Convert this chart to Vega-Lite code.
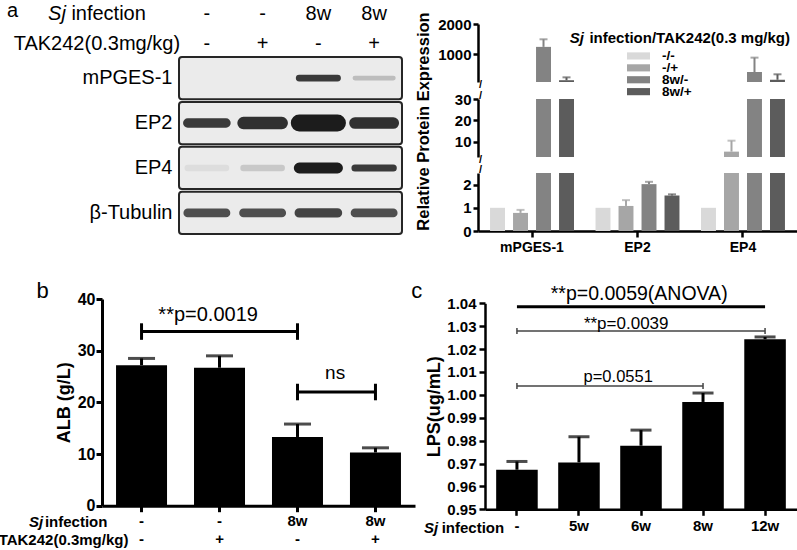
{
"$schema": "https://vega.github.io/schema/vega-lite/v6.json",
"width": 797,
"height": 550,
"autosize": {"type": "none"},
"padding": 0,
"background": "#ffffff",
"config": {
  "view": {"stroke": null},
  "font": "Liberation Sans",
  "axis": {"labelFont": "Liberation Sans", "titleFont": "Liberation Sans", "labelColor": "#000000", "titleColor": "#000000", "domainColor": "#000000", "tickColor": "#000000", "grid": false, "labelFlush": false, "labelOverlap": false, "labelBound": false, "labelAngle": 0},
  "text": {"font": "Liberation Sans", "color": "#000000"}
},
"datasets": {
  "proteins": [{"protein": "mPGES-1"}, {"protein": "EP2"}, {"protein": "EP4"}, {"protein": "β-Tubulin"}],
  "blot": [
    {"protein": "mPGES-1", "lane": "-/-", "signal": 0, "thick": 0.2},
    {"protein": "mPGES-1", "lane": "-/+", "signal": 0, "thick": 0.2},
    {"protein": "mPGES-1", "lane": "8w/-", "signal": 0.85, "thick": 0.33},
    {"protein": "mPGES-1", "lane": "8w/+", "signal": 0.22, "thick": 0.2},
    {"protein": "EP2", "lane": "-/-", "signal": 0.85, "thick": 0.5},
    {"protein": "EP2", "lane": "-/+", "signal": 0.9, "thick": 0.7},
    {"protein": "EP2", "lane": "8w/-", "signal": 1.0, "thick": 1.0},
    {"protein": "EP2", "lane": "8w/+", "signal": 0.9, "thick": 0.65},
    {"protein": "EP4", "lane": "-/-", "signal": 0.06, "thick": 0.3},
    {"protein": "EP4", "lane": "-/+", "signal": 0.16, "thick": 0.3},
    {"protein": "EP4", "lane": "8w/-", "signal": 1.0, "thick": 0.6},
    {"protein": "EP4", "lane": "8w/+", "signal": 0.85, "thick": 0.35},
    {"protein": "β-Tubulin", "lane": "-/-", "signal": 0.75, "thick": 0.45},
    {"protein": "β-Tubulin", "lane": "-/+", "signal": 0.75, "thick": 0.45},
    {"protein": "β-Tubulin", "lane": "8w/-", "signal": 0.8, "thick": 0.5},
    {"protein": "β-Tubulin", "lane": "8w/+", "signal": 0.75, "thick": 0.45}
  ],
  "expr": [
    {"protein": "mPGES-1", "group": "-/-", "mean": 1, "err": null},
    {"protein": "mPGES-1", "group": "-/+", "mean": 0.78, "err": 0.91},
    {"protein": "mPGES-1", "group": "8w/-", "mean": 1245, "err": 1495},
    {"protein": "mPGES-1", "group": "8w/+", "mean": 145, "err": 240},
    {"protein": "EP2", "group": "-/-", "mean": 1, "err": null},
    {"protein": "EP2", "group": "-/+", "mean": 1.08, "err": 1.33},
    {"protein": "EP2", "group": "8w/-", "mean": 2.02, "err": 2.12},
    {"protein": "EP2", "group": "8w/+", "mean": 1.53, "err": 1.58},
    {"protein": "EP4", "group": "-/-", "mean": 1, "err": null},
    {"protein": "EP4", "group": "-/+", "mean": 5.5, "err": 10.6},
    {"protein": "EP4", "group": "8w/-", "mean": 416, "err": 890},
    {"protein": "EP4", "group": "8w/+", "mean": 160, "err": 340}
  ],
  "groups": [{"group": "-/-"}, {"group": "-/+"}, {"group": "8w/-"}, {"group": "8w/+"}],
  "alb": [
    {"g": "-/-", "mean": 27.2, "err": 28.5},
    {"g": "-/+", "mean": 26.7, "err": 29.0},
    {"g": "8w/-", "mean": 13.3, "err": 15.8},
    {"g": "8w/+", "mean": 10.3, "err": 11.2}
  ],
  "bBrackets": [
    {"from": "-/-", "to": "8w/-", "y": 33.7, "lo": 32.1, "hi": 35.3, "label": "**p=0.0019", "ly": 37},
    {"from": "8w/-", "to": "8w/+", "y": 22, "lo": 20.4, "hi": 23.6, "label": "ns", "ly": 25.7}
  ],
  "lps": [
    {"g": "-", "mean": 0.9673, "err": 0.9709},
    {"g": "5w", "mean": 0.9705, "err": 0.9817},
    {"g": "6w", "mean": 0.9778, "err": 0.9846},
    {"g": "8w", "mean": 0.9969, "err": 1.0008},
    {"g": "12w", "mean": 1.0243, "err": 1.0253}
  ],
  "cBrackets": [
    {"from": "-", "to": "12w", "y": 1.0385, "lo": null, "hi": null, "label": "**p=0.0059(ANOVA)", "ly": 1.0441},
    {"from": "-", "to": "12w", "y": 1.0279, "lo": 1.0266, "hi": 1.0292, "label": "**p=0.0039", "ly": 1.0311},
    {"from": "-", "to": "8w", "y": 1.0039, "lo": 1.0026, "hi": 1.0052, "label": "p=0.0551", "ly": 1.0077}
  ]
},
"resolve": {
  "scale": {"x": "independent", "y": "independent", "xOffset": "independent", "color": "independent", "opacity": "independent", "strokeWidth": "independent"},
  "axis": {"x": "independent", "y": "independent"}
},
"layer": [
  {
    "data": {"name": "proteins"},
    "mark": {"type": "rect", "fill": "#ebebeb", "stroke": "#262626", "strokeWidth": 2, "cornerRadius": 3},
    "encoding": {
      "x": {"datum": 0.5, "type": "quantitative", "scale": {"domain": [0.5, 4.5], "range": [179, 402], "nice": false, "zero": false}, "axis": null},
      "x2": {"datum": 4.5},
      "y": {"field": "protein", "type": "nominal", "sort": null, "scale": {"domain": ["mPGES-1", "EP2", "EP4", "β-Tubulin"], "range": [57, 234], "paddingInner": 0.06, "paddingOuter": 0}, "axis": {"orient": "left", "offset": -179, "title": null, "domain": false, "ticks": false, "labelFontSize": 20, "labelFontWeight": "normal", "labelPadding": 7}}
    }
  },
  {
    "data": {"name": "blot"},
    "mark": {"type": "rect", "width": {"band": 0.78}, "height": {"band": 0.02}, "cornerRadius": 3, "fill": "#111111", "stroke": "#111111", "strokeJoin": "round"},
    "encoding": {
      "x": {"field": "lane", "type": "nominal", "sort": null, "scale": {"domain": ["-/-", "-/+", "8w/-", "8w/+"], "range": [179, 402], "paddingInner": 0.1, "paddingOuter": 0.05}, "axis": {"orient": "top", "offset": -57, "title": null, "domain": false, "ticks": false, "labelFontSize": 20, "labelFontWeight": "normal", "labelPadding": 34, "labelLineHeight": 30, "labelAngle": 0, "labelExpr": "split(datum.value, '/')"}},
      "y": {"field": "protein", "type": "nominal", "sort": null, "scale": {"domain": ["mPGES-1", "EP2", "EP4", "β-Tubulin"], "range": [57, 234], "paddingInner": 0.06, "paddingOuter": 0}, "axis": null},
      "opacity": {"field": "signal", "type": "quantitative", "scale": {"domain": [0, 1], "range": [0, 0.95]}, "legend": null},
      "strokeWidth": {"field": "thick", "type": "quantitative", "scale": {"domain": [0, 1], "range": [1, 16]}, "legend": null}
    }
  },
  {
    "data": {"values": [{"t": "Sj"}]},
    "mark": {"type": "text", "align": "left", "fontSize": 20, "fontStyle": "italic", "dx": -158.8, "dy": -65},
    "encoding": {
      "x": {"datum": "-/-", "type": "nominal", "scale": {"domain": ["-/-", "-/+", "8w/-", "8w/+"], "range": [179, 402], "paddingInner": 0.1, "paddingOuter": 0.05}, "axis": null},
      "y": {"datum": "mPGES-1", "type": "nominal", "scale": {"domain": ["mPGES-1", "EP2", "EP4", "β-Tubulin"], "range": [57, 234], "paddingInner": 0.06, "paddingOuter": 0}, "axis": null},
      "text": {"field": "t"}
    }
  },
  {
    "data": {"values": [{"t": "infection"}]},
    "mark": {"type": "text", "align": "left", "fontSize": 20, "dx": -135.5, "dy": -65},
    "encoding": {
      "x": {"datum": "-/-", "type": "nominal", "scale": {"domain": ["-/-", "-/+", "8w/-", "8w/+"], "range": [179, 402], "paddingInner": 0.1, "paddingOuter": 0.05}, "axis": null},
      "y": {"datum": "mPGES-1", "type": "nominal", "scale": {"domain": ["mPGES-1", "EP2", "EP4", "β-Tubulin"], "range": [57, 234], "paddingInner": 0.06, "paddingOuter": 0}, "axis": null},
      "text": {"field": "t"}
    }
  },
  {
    "data": {"values": [{"t": "TAK242(0.3mg/kg)"}]},
    "mark": {"type": "text", "align": "center", "fontSize": 20, "dx": -110, "dy": -35},
    "encoding": {
      "x": {"datum": "-/-", "type": "nominal", "scale": {"domain": ["-/-", "-/+", "8w/-", "8w/+"], "range": [179, 402], "paddingInner": 0.1, "paddingOuter": 0.05}, "axis": null},
      "y": {"datum": "mPGES-1", "type": "nominal", "scale": {"domain": ["mPGES-1", "EP2", "EP4", "β-Tubulin"], "range": [57, 234], "paddingInner": 0.06, "paddingOuter": 0}, "axis": null},
      "text": {"field": "t"}
    }
  },
  {
    "data": {"values": [{"t": "a"}]},
    "mark": {"type": "text", "align": "left", "baseline": "top", "fontSize": 20, "dx": -200, "dy": -78},
    "encoding": {
      "x": {"datum": "-/-", "type": "nominal", "scale": {"domain": ["-/-", "-/+", "8w/-", "8w/+"], "range": [179, 402], "paddingInner": 0.1, "paddingOuter": 0.05}, "axis": null},
      "y": {"datum": "mPGES-1", "type": "nominal", "scale": {"domain": ["mPGES-1", "EP2", "EP4", "β-Tubulin"], "range": [57, 234], "paddingInner": 0.06, "paddingOuter": 0}, "axis": null},
      "text": {"field": "t"}
    }
  },

  {
    "data": {"name": "expr"},
    "mark": {"type": "bar"},
    "encoding": {
      "x": {"field": "protein", "type": "nominal", "sort": null, "scale": {"domain": ["mPGES-1", "EP2", "EP4"], "range": [478, 797], "paddingInner": 0.128, "paddingOuter": 0.076}, "axis": {"orient": "bottom", "offset": -319, "title": null, "labelAngle": 0, "labelFontSize": 14, "labelFontWeight": "bold", "tickSize": 6, "tickWidth": 2.5, "domainWidth": 2.5, "labelPadding": 3}},
      "xOffset": {"field": "group", "type": "nominal", "sort": null, "scale": {"domain": ["-/-", "-/+", "8w/-", "8w/+"], "paddingInner": 0.35, "paddingOuter": 0.175}},
      "color": {"field": "group", "type": "nominal", "scale": {"domain": ["-/-", "-/+", "8w/-", "8w/+"], "range": ["#d9d9d9", "#a6a6a6", "#838383", "#5c5c5c"]}, "legend": null},
      "y": {"field": "mean", "type": "quantitative", "scale": {"domain": [0, 2.5], "range": [231, 173], "clamp": true, "nice": false, "zero": false}, "axis": {"orient": "left", "offset": -478, "values": [0, 1, 2], "format": "d", "title": null, "labelFontSize": 15, "labelFontWeight": "bold", "tickSize": 5, "tickWidth": 2.5, "domainWidth": 2.5, "labelPadding": 2}},
      "y2": {"datum": 0}
    }
  },
  {
    "data": {"name": "expr"},
    "transform": [{"filter": "isValid(datum.err)"}],
    "mark": {"type": "rule", "strokeWidth": 2},
    "encoding": {
      "x": {"field": "protein", "type": "nominal", "sort": null, "scale": {"domain": ["mPGES-1", "EP2", "EP4"], "range": [478, 797], "paddingInner": 0.128, "paddingOuter": 0.076}, "axis": null},
      "xOffset": {"field": "group", "type": "nominal", "sort": null, "scale": {"domain": ["-/-", "-/+", "8w/-", "8w/+"], "paddingInner": 0.35, "paddingOuter": 0.175}},
      "color": {"field": "group", "type": "nominal", "scale": {"domain": ["-/-", "-/+", "8w/-", "8w/+"], "range": ["#d9d9d9", "#a6a6a6", "#838383", "#5c5c5c"]}, "legend": null},
      "y": {"field": "mean", "type": "quantitative", "scale": {"domain": [0, 2.5], "range": [231, 173], "clamp": true, "nice": false, "zero": false}, "axis": null},
      "y2": {"field": "err"}
    }
  },
  {
    "data": {"name": "expr"},
    "transform": [{"filter": "isValid(datum.err) && datum.err <= 2.5"}],
    "mark": {"type": "tick", "size": 8, "thickness": 2},
    "encoding": {
      "x": {"field": "protein", "type": "nominal", "sort": null, "scale": {"domain": ["mPGES-1", "EP2", "EP4"], "range": [478, 797], "paddingInner": 0.128, "paddingOuter": 0.076}, "axis": null},
      "xOffset": {"field": "group", "type": "nominal", "sort": null, "scale": {"domain": ["-/-", "-/+", "8w/-", "8w/+"], "paddingInner": 0.35, "paddingOuter": 0.175}},
      "color": {"field": "group", "type": "nominal", "scale": {"domain": ["-/-", "-/+", "8w/-", "8w/+"], "range": ["#d9d9d9", "#a6a6a6", "#838383", "#5c5c5c"]}, "legend": null},
      "y": {"field": "err", "type": "quantitative", "scale": {"domain": [0, 2.5], "range": [231, 173], "clamp": true, "nice": false, "zero": false}, "axis": null}
    }
  },
  {
    "data": {"name": "expr"},
    "mark": {"type": "bar"},
    "encoding": {
      "x": {"field": "protein", "type": "nominal", "sort": null, "scale": {"domain": ["mPGES-1", "EP2", "EP4"], "range": [478, 797], "paddingInner": 0.128, "paddingOuter": 0.076}, "axis": null},
      "xOffset": {"field": "group", "type": "nominal", "sort": null, "scale": {"domain": ["-/-", "-/+", "8w/-", "8w/+"], "paddingInner": 0.35, "paddingOuter": 0.175}},
      "color": {"field": "group", "type": "nominal", "scale": {"domain": ["-/-", "-/+", "8w/-", "8w/+"], "range": ["#d9d9d9", "#a6a6a6", "#838383", "#5c5c5c"]}, "legend": null},
      "y": {"field": "mean", "type": "quantitative", "scale": {"domain": [3, 30], "range": [157, 99], "clamp": true, "nice": false, "zero": false}, "axis": {"orient": "left", "offset": -478, "values": [10, 20, 30], "format": "d", "title": "Relative Protein Expression", "titleFontSize": 16.5, "titleFontWeight": "bold", "titleX": -55, "titleY": 121, "titleBaseline": "middle", "titleAlign": "center", "labelFontSize": 15, "labelFontWeight": "bold", "tickSize": 5, "tickWidth": 2.5, "domainWidth": 2.5, "labelPadding": 2}},
      "y2": {"datum": 0}
    }
  },
  {
    "data": {"name": "expr"},
    "transform": [{"filter": "isValid(datum.err)"}],
    "mark": {"type": "rule", "strokeWidth": 2},
    "encoding": {
      "x": {"field": "protein", "type": "nominal", "sort": null, "scale": {"domain": ["mPGES-1", "EP2", "EP4"], "range": [478, 797], "paddingInner": 0.128, "paddingOuter": 0.076}, "axis": null},
      "xOffset": {"field": "group", "type": "nominal", "sort": null, "scale": {"domain": ["-/-", "-/+", "8w/-", "8w/+"], "paddingInner": 0.35, "paddingOuter": 0.175}},
      "color": {"field": "group", "type": "nominal", "scale": {"domain": ["-/-", "-/+", "8w/-", "8w/+"], "range": ["#d9d9d9", "#a6a6a6", "#838383", "#5c5c5c"]}, "legend": null},
      "y": {"field": "mean", "type": "quantitative", "scale": {"domain": [3, 30], "range": [157, 99], "clamp": true, "nice": false, "zero": false}, "axis": null},
      "y2": {"field": "err"}
    }
  },
  {
    "data": {"name": "expr"},
    "transform": [{"filter": "isValid(datum.err) && datum.err > 3 && datum.err <= 30"}],
    "mark": {"type": "tick", "size": 8, "thickness": 2},
    "encoding": {
      "x": {"field": "protein", "type": "nominal", "sort": null, "scale": {"domain": ["mPGES-1", "EP2", "EP4"], "range": [478, 797], "paddingInner": 0.128, "paddingOuter": 0.076}, "axis": null},
      "xOffset": {"field": "group", "type": "nominal", "sort": null, "scale": {"domain": ["-/-", "-/+", "8w/-", "8w/+"], "paddingInner": 0.35, "paddingOuter": 0.175}},
      "color": {"field": "group", "type": "nominal", "scale": {"domain": ["-/-", "-/+", "8w/-", "8w/+"], "range": ["#d9d9d9", "#a6a6a6", "#838383", "#5c5c5c"]}, "legend": null},
      "y": {"field": "err", "type": "quantitative", "scale": {"domain": [3, 30], "range": [157, 99], "clamp": true, "nice": false, "zero": false}, "axis": null}
    }
  },
  {
    "data": {"name": "expr"},
    "mark": {"type": "bar"},
    "encoding": {
      "x": {"field": "protein", "type": "nominal", "sort": null, "scale": {"domain": ["mPGES-1", "EP2", "EP4"], "range": [478, 797], "paddingInner": 0.128, "paddingOuter": 0.076}, "axis": null},
      "xOffset": {"field": "group", "type": "nominal", "sort": null, "scale": {"domain": ["-/-", "-/+", "8w/-", "8w/+"], "paddingInner": 0.35, "paddingOuter": 0.175}},
      "color": {"field": "group", "type": "nominal", "scale": {"domain": ["-/-", "-/+", "8w/-", "8w/+"], "range": ["#d9d9d9", "#a6a6a6", "#838383", "#5c5c5c"]}, "legend": null},
      "y": {"field": "mean", "type": "quantitative", "scale": {"domain": [86, 2000], "range": [82, 24], "clamp": true, "nice": false, "zero": false}, "axis": {"orient": "left", "offset": -478, "values": [1000, 2000], "format": "d", "title": null, "labelFontSize": 15, "labelFontWeight": "bold", "tickSize": 5, "tickWidth": 2.5, "domainWidth": 2.5, "labelPadding": 2}},
      "y2": {"datum": 0}
    }
  },
  {
    "data": {"name": "expr"},
    "transform": [{"filter": "isValid(datum.err)"}],
    "mark": {"type": "rule", "strokeWidth": 2},
    "encoding": {
      "x": {"field": "protein", "type": "nominal", "sort": null, "scale": {"domain": ["mPGES-1", "EP2", "EP4"], "range": [478, 797], "paddingInner": 0.128, "paddingOuter": 0.076}, "axis": null},
      "xOffset": {"field": "group", "type": "nominal", "sort": null, "scale": {"domain": ["-/-", "-/+", "8w/-", "8w/+"], "paddingInner": 0.35, "paddingOuter": 0.175}},
      "color": {"field": "group", "type": "nominal", "scale": {"domain": ["-/-", "-/+", "8w/-", "8w/+"], "range": ["#d9d9d9", "#a6a6a6", "#838383", "#5c5c5c"]}, "legend": null},
      "y": {"field": "mean", "type": "quantitative", "scale": {"domain": [86, 2000], "range": [82, 24], "clamp": true, "nice": false, "zero": false}, "axis": null},
      "y2": {"field": "err"}
    }
  },
  {
    "data": {"name": "expr"},
    "transform": [{"filter": "isValid(datum.err) && datum.err > 86"}],
    "mark": {"type": "tick", "size": 8, "thickness": 2},
    "encoding": {
      "x": {"field": "protein", "type": "nominal", "sort": null, "scale": {"domain": ["mPGES-1", "EP2", "EP4"], "range": [478, 797], "paddingInner": 0.128, "paddingOuter": 0.076}, "axis": null},
      "xOffset": {"field": "group", "type": "nominal", "sort": null, "scale": {"domain": ["-/-", "-/+", "8w/-", "8w/+"], "paddingInner": 0.35, "paddingOuter": 0.175}},
      "color": {"field": "group", "type": "nominal", "scale": {"domain": ["-/-", "-/+", "8w/-", "8w/+"], "range": ["#d9d9d9", "#a6a6a6", "#838383", "#5c5c5c"]}, "legend": null},
      "y": {"field": "err", "type": "quantitative", "scale": {"domain": [86, 2000], "range": [82, 24], "clamp": true, "nice": false, "zero": false}, "axis": null}
    }
  },
  {
    "data": {"values": [{"t": "/", "v": 86}]},
    "mark": {"type": "text", "fontSize": 11, "fontWeight": "bold", "dx": -50.6, "dy": 3},
    "encoding": {
      "x": {"datum": "mPGES-1", "type": "nominal", "scale": {"domain": ["mPGES-1", "EP2", "EP4"], "range": [478, 797], "paddingInner": 0.128, "paddingOuter": 0.076}, "axis": null},
      "y": {"field": "v", "type": "quantitative", "scale": {"domain": [86, 2000], "range": [82, 24], "clamp": true, "nice": false, "zero": false}, "axis": null},
      "text": {"field": "t"}
    }
  },
  {
    "data": {"values": [{"t": "/", "v": 30}]},
    "mark": {"type": "text", "fontSize": 11, "fontWeight": "bold", "dx": -50.6, "dy": -3},
    "encoding": {
      "x": {"datum": "mPGES-1", "type": "nominal", "scale": {"domain": ["mPGES-1", "EP2", "EP4"], "range": [478, 797], "paddingInner": 0.128, "paddingOuter": 0.076}, "axis": null},
      "y": {"field": "v", "type": "quantitative", "scale": {"domain": [3, 30], "range": [157, 99], "clamp": true, "nice": false, "zero": false}, "axis": null},
      "text": {"field": "t"}
    }
  },
  {
    "data": {"values": [{"t": "/", "v": 3}]},
    "mark": {"type": "text", "fontSize": 11, "fontWeight": "bold", "dx": -50.6, "dy": 3},
    "encoding": {
      "x": {"datum": "mPGES-1", "type": "nominal", "scale": {"domain": ["mPGES-1", "EP2", "EP4"], "range": [478, 797], "paddingInner": 0.128, "paddingOuter": 0.076}, "axis": null},
      "y": {"field": "v", "type": "quantitative", "scale": {"domain": [3, 30], "range": [157, 99], "clamp": true, "nice": false, "zero": false}, "axis": null},
      "text": {"field": "t"}
    }
  },
  {
    "data": {"values": [{"t": "/", "v": 2.5}]},
    "mark": {"type": "text", "fontSize": 11, "fontWeight": "bold", "dx": -50.6, "dy": -3},
    "encoding": {
      "x": {"datum": "mPGES-1", "type": "nominal", "scale": {"domain": ["mPGES-1", "EP2", "EP4"], "range": [478, 797], "paddingInner": 0.128, "paddingOuter": 0.076}, "axis": null},
      "y": {"field": "v", "type": "quantitative", "scale": {"domain": [0, 2.5], "range": [231, 173], "clamp": true, "nice": false, "zero": false}, "axis": null},
      "text": {"field": "t"}
    }
  },

  {
    "data": {"name": "groups"},
    "mark": {"type": "rect", "height": {"band": 0.6}},
    "encoding": {
      "x": {"datum": 0, "type": "quantitative", "scale": {"domain": [0, 1], "range": [627, 650], "nice": false, "zero": false}, "axis": null},
      "x2": {"datum": 1},
      "y": {"field": "group", "type": "nominal", "sort": null, "scale": {"domain": ["-/-", "-/+", "8w/-", "8w/+"], "range": [50, 97.6], "paddingInner": 0, "paddingOuter": 0}, "axis": null},
      "color": {"field": "group", "type": "nominal", "scale": {"domain": ["-/-", "-/+", "8w/-", "8w/+"], "range": ["#d9d9d9", "#a6a6a6", "#838383", "#5c5c5c"]}, "legend": null}
    }
  },
  {
    "data": {"name": "groups"},
    "mark": {"type": "text", "align": "left", "dx": 12, "fontSize": 13.5, "fontWeight": "bold"},
    "encoding": {
      "x": {"datum": 1, "type": "quantitative", "scale": {"domain": [0, 1], "range": [627, 650], "nice": false, "zero": false}, "axis": null},
      "y": {"field": "group", "type": "nominal", "sort": null, "scale": {"domain": ["-/-", "-/+", "8w/-", "8w/+"], "range": [50, 97.6], "paddingInner": 0, "paddingOuter": 0}, "axis": null},
      "text": {"field": "group"}
    }
  },
  {
    "data": {"values": [{"t": "Sj"}]},
    "mark": {"type": "text", "align": "right", "dx": -43, "dy": -18, "fontSize": 15, "fontWeight": "bold", "fontStyle": "italic"},
    "encoding": {
      "x": {"datum": 0, "type": "quantitative", "scale": {"domain": [0, 1], "range": [627, 650], "nice": false, "zero": false}, "axis": null},
      "y": {"datum": "-/-", "type": "nominal", "scale": {"domain": ["-/-", "-/+", "8w/-", "8w/+"], "range": [50, 97.6], "paddingInner": 0, "paddingOuter": 0}, "axis": null},
      "text": {"field": "t"}
    }
  },
  {
    "data": {"values": [{"t": "infection/TAK242(0.3 mg/kg)"}]},
    "mark": {"type": "text", "align": "right", "dx": 163, "dy": -18, "fontSize": 15, "fontWeight": "bold"},
    "encoding": {
      "x": {"datum": 0, "type": "quantitative", "scale": {"domain": [0, 1], "range": [627, 650], "nice": false, "zero": false}, "axis": null},
      "y": {"datum": "-/-", "type": "nominal", "scale": {"domain": ["-/-", "-/+", "8w/-", "8w/+"], "range": [50, 97.6], "paddingInner": 0, "paddingOuter": 0}, "axis": null},
      "text": {"field": "t"}
    }
  },

  {
    "data": {"name": "alb"},
    "mark": {"type": "bar", "color": "#000000"},
    "encoding": {
      "x": {"field": "g", "type": "nominal", "sort": null, "scale": {"domain": ["-/-", "-/+", "8w/-", "8w/+"], "range": [102, 415], "paddingInner": 0.346, "paddingOuter": 0.18}, "axis": {"orient": "bottom", "offset": -44.3, "title": null, "labelAngle": 0, "labelFontSize": 15, "labelFontWeight": "bold", "labelLineHeight": 18, "labelExpr": "split(datum.value, '/')", "tickSize": 6, "tickWidth": 3, "domainWidth": 3, "labelPadding": 2}},
      "y": {"field": "mean", "type": "quantitative", "scale": {"domain": [0, 40], "range": [505.7, 299], "nice": false, "zero": false}, "axis": {"orient": "left", "offset": -102, "values": [0, 10, 20, 30, 40], "title": "ALB (g/L)", "titleFontSize": 18, "titleFontWeight": "bold", "titlePadding": 4, "labelFontSize": 16, "labelFontWeight": "bold", "tickSize": 6, "tickWidth": 3, "domainWidth": 3, "labelPadding": 1}},
      "y2": {"datum": 0}
    }
  },
  {
    "data": {"name": "alb"},
    "mark": {"type": "rule", "color": "#000000", "strokeWidth": 3},
    "encoding": {
      "x": {"field": "g", "type": "nominal", "sort": null, "scale": {"domain": ["-/-", "-/+", "8w/-", "8w/+"], "range": [102, 415], "paddingInner": 0.346, "paddingOuter": 0.18}, "axis": null},
      "y": {"field": "mean", "type": "quantitative", "scale": {"domain": [0, 40], "range": [505.7, 299], "nice": false, "zero": false}, "axis": null},
      "y2": {"field": "err"}
    }
  },
  {
    "data": {"name": "alb"},
    "mark": {"type": "tick", "color": "#000000", "size": 27, "thickness": 3},
    "encoding": {
      "x": {"field": "g", "type": "nominal", "sort": null, "scale": {"domain": ["-/-", "-/+", "8w/-", "8w/+"], "range": [102, 415], "paddingInner": 0.346, "paddingOuter": 0.18}, "axis": null},
      "y": {"field": "err", "type": "quantitative", "scale": {"domain": [0, 40], "range": [505.7, 299], "nice": false, "zero": false}, "axis": null}
    }
  },
  {
    "data": {"name": "bBrackets"},
    "mark": {"type": "rule", "color": "#000000", "strokeWidth": 3},
    "encoding": {
      "x": {"field": "from", "type": "nominal", "scale": {"domain": ["-/-", "-/+", "8w/-", "8w/+"], "range": [102, 415], "paddingInner": 0.346, "paddingOuter": 0.18}, "axis": null},
      "x2": {"field": "to"},
      "y": {"field": "y", "type": "quantitative", "scale": {"domain": [0, 40], "range": [505.7, 299], "nice": false, "zero": false}, "axis": null}
    }
  },
  {
    "data": {"name": "bBrackets"},
    "transform": [{"fold": ["from", "to"], "as": ["end", "at"]}],
    "mark": {"type": "rule", "color": "#000000", "strokeWidth": 3},
    "encoding": {
      "x": {"field": "at", "type": "nominal", "scale": {"domain": ["-/-", "-/+", "8w/-", "8w/+"], "range": [102, 415], "paddingInner": 0.346, "paddingOuter": 0.18}, "axis": null},
      "y": {"field": "lo", "type": "quantitative", "scale": {"domain": [0, 40], "range": [505.7, 299], "nice": false, "zero": false}, "axis": null},
      "y2": {"field": "hi"}
    }
  },
  {
    "data": {"name": "bBrackets"},
    "transform": [{"filter": "datum.label == '**p=0.0019'"}],
    "mark": {"type": "text", "fontSize": 20, "dx": 67},
    "encoding": {
      "x": {"field": "from", "type": "nominal", "scale": {"domain": ["-/-", "-/+", "8w/-", "8w/+"], "range": [102, 415], "paddingInner": 0.346, "paddingOuter": 0.18}, "axis": null},
      "y": {"field": "ly", "type": "quantitative", "scale": {"domain": [0, 40], "range": [505.7, 299], "nice": false, "zero": false}, "axis": null},
      "text": {"field": "label"}
    }
  },
  {
    "data": {"name": "bBrackets"},
    "transform": [{"filter": "datum.label == 'ns'"}],
    "mark": {"type": "text", "fontSize": 19, "dx": 37.5},
    "encoding": {
      "x": {"field": "from", "type": "nominal", "scale": {"domain": ["-/-", "-/+", "8w/-", "8w/+"], "range": [102, 415], "paddingInner": 0.346, "paddingOuter": 0.18}, "axis": null},
      "y": {"field": "ly", "type": "quantitative", "scale": {"domain": [0, 40], "range": [505.7, 299], "nice": false, "zero": false}, "axis": null},
      "text": {"field": "label"}
    }
  },
  {
    "data": {"values": [{"t": "Sj"}]},
    "mark": {"type": "text", "align": "right", "fontSize": 15, "fontWeight": "bold", "fontStyle": "italic", "dx": -98, "dy": 16.5},
    "encoding": {
      "x": {"datum": "-/-", "type": "nominal", "scale": {"domain": ["-/-", "-/+", "8w/-", "8w/+"], "range": [102, 415], "paddingInner": 0.346, "paddingOuter": 0.18}, "axis": null},
      "y": {"datum": 0, "type": "quantitative", "scale": {"domain": [0, 40], "range": [505.7, 299], "nice": false, "zero": false}, "axis": null},
      "text": {"field": "t"}
    }
  },
  {
    "data": {"values": [{"t": "infection"}]},
    "mark": {"type": "text", "align": "right", "fontSize": 15, "fontWeight": "bold", "dx": -33.7, "dy": 16.5},
    "encoding": {
      "x": {"datum": "-/-", "type": "nominal", "scale": {"domain": ["-/-", "-/+", "8w/-", "8w/+"], "range": [102, 415], "paddingInner": 0.346, "paddingOuter": 0.18}, "axis": null},
      "y": {"datum": 0, "type": "quantitative", "scale": {"domain": [0, 40], "range": [505.7, 299], "nice": false, "zero": false}, "axis": null},
      "text": {"field": "t"}
    }
  },
  {
    "data": {"values": [{"t": "TAK242(0.3mg/kg)"}]},
    "mark": {"type": "text", "align": "right", "fontSize": 15, "fontWeight": "bold", "dx": -12.7, "dy": 34.5},
    "encoding": {
      "x": {"datum": "-/-", "type": "nominal", "scale": {"domain": ["-/-", "-/+", "8w/-", "8w/+"], "range": [102, 415], "paddingInner": 0.346, "paddingOuter": 0.18}, "axis": null},
      "y": {"datum": 0, "type": "quantitative", "scale": {"domain": [0, 40], "range": [505.7, 299], "nice": false, "zero": false}, "axis": null},
      "text": {"field": "t"}
    }
  },
  {
    "data": {"values": [{"t": "b"}]},
    "mark": {"type": "text", "align": "left", "baseline": "alphabetic", "fontSize": 22, "dx": -104.7, "dy": -1},
    "encoding": {
      "x": {"datum": "-/-", "type": "nominal", "scale": {"domain": ["-/-", "-/+", "8w/-", "8w/+"], "range": [102, 415], "paddingInner": 0.346, "paddingOuter": 0.18}, "axis": null},
      "y": {"datum": 40, "type": "quantitative", "scale": {"domain": [0, 40], "range": [505.7, 299], "nice": false, "zero": false}, "axis": null},
      "text": {"field": "t"}
    }
  },

  {
    "data": {"name": "lps"},
    "mark": {"type": "bar", "color": "#000000"},
    "encoding": {
      "x": {"field": "g", "type": "nominal", "sort": null, "scale": {"domain": ["-", "5w", "6w", "8w", "12w"], "range": [485, 797], "paddingInner": 0.33, "paddingOuter": 0.18}, "axis": {"orient": "bottom", "offset": -40.7, "title": null, "labelAngle": 0, "labelFontSize": 15, "labelFontWeight": "bold", "tickSize": 6, "tickWidth": 2.5, "domainWidth": 2.5, "labelPadding": 3}},
      "y": {"field": "mean", "type": "quantitative", "scale": {"domain": [0.95, 1.04], "range": [509.3, 303.3], "nice": false, "zero": false}, "axis": {"orient": "left", "offset": -485, "values": [0.95, 0.96, 0.97, 0.98, 0.99, 1.0, 1.01, 1.02, 1.03, 1.04], "format": ".2f", "title": "LPS(ug/mL)", "titleFontSize": 18, "titleFontWeight": "bold", "titlePadding": 3, "labelFontSize": 15, "labelFontWeight": "bold", "tickSize": 6, "tickWidth": 2.5, "domainWidth": 2.5, "labelPadding": 3}},
      "y2": {"datum": 0.95}
    }
  },
  {
    "data": {"name": "lps"},
    "mark": {"type": "rule", "color": "#000000", "strokeWidth": 3},
    "encoding": {
      "x": {"field": "g", "type": "nominal", "sort": null, "scale": {"domain": ["-", "5w", "6w", "8w", "12w"], "range": [485, 797], "paddingInner": 0.33, "paddingOuter": 0.18}, "axis": null},
      "y": {"field": "mean", "type": "quantitative", "scale": {"domain": [0.95, 1.04], "range": [509.3, 303.3], "nice": false, "zero": false}, "axis": null},
      "y2": {"field": "err"}
    }
  },
  {
    "data": {"name": "lps"},
    "mark": {"type": "tick", "color": "#000000", "size": 21, "thickness": 3},
    "encoding": {
      "x": {"field": "g", "type": "nominal", "sort": null, "scale": {"domain": ["-", "5w", "6w", "8w", "12w"], "range": [485, 797], "paddingInner": 0.33, "paddingOuter": 0.18}, "axis": null},
      "y": {"field": "err", "type": "quantitative", "scale": {"domain": [0.95, 1.04], "range": [509.3, 303.3], "nice": false, "zero": false}, "axis": null}
    }
  },
  {
    "data": {"name": "cBrackets"},
    "transform": [{"filter": "!isValid(datum.lo)"}],
    "mark": {"type": "rule", "color": "#000000", "strokeWidth": 3},
    "encoding": {
      "x": {"field": "from", "type": "nominal", "scale": {"domain": ["-", "5w", "6w", "8w", "12w"], "range": [485, 797], "paddingInner": 0.33, "paddingOuter": 0.18}, "axis": null},
      "x2": {"field": "to"},
      "y": {"field": "y", "type": "quantitative", "scale": {"domain": [0.95, 1.04], "range": [509.3, 303.3], "nice": false, "zero": false}, "axis": null}
    }
  },
  {
    "data": {"name": "cBrackets"},
    "transform": [{"filter": "isValid(datum.lo)"}],
    "mark": {"type": "rule", "color": "#444444", "strokeWidth": 1.5},
    "encoding": {
      "x": {"field": "from", "type": "nominal", "scale": {"domain": ["-", "5w", "6w", "8w", "12w"], "range": [485, 797], "paddingInner": 0.33, "paddingOuter": 0.18}, "axis": null},
      "x2": {"field": "to"},
      "y": {"field": "y", "type": "quantitative", "scale": {"domain": [0.95, 1.04], "range": [509.3, 303.3], "nice": false, "zero": false}, "axis": null}
    }
  },
  {
    "data": {"name": "cBrackets"},
    "transform": [{"filter": "isValid(datum.lo)"}, {"fold": ["from", "to"], "as": ["end", "at"]}],
    "mark": {"type": "rule", "color": "#444444", "strokeWidth": 1.5},
    "encoding": {
      "x": {"field": "at", "type": "nominal", "scale": {"domain": ["-", "5w", "6w", "8w", "12w"], "range": [485, 797], "paddingInner": 0.33, "paddingOuter": 0.18}, "axis": null},
      "y": {"field": "lo", "type": "quantitative", "scale": {"domain": [0.95, 1.04], "range": [509.3, 303.3], "nice": false, "zero": false}, "axis": null},
      "y2": {"field": "hi"}
    }
  },
  {
    "data": {"name": "cBrackets"},
    "transform": [{"filter": "datum.label == '**p=0.0059(ANOVA)'"}],
    "mark": {"type": "text", "fontSize": 19.5, "dx": 123},
    "encoding": {
      "x": {"field": "from", "type": "nominal", "scale": {"domain": ["-", "5w", "6w", "8w", "12w"], "range": [485, 797], "paddingInner": 0.33, "paddingOuter": 0.18}, "axis": null},
      "y": {"field": "ly", "type": "quantitative", "scale": {"domain": [0.95, 1.04], "range": [509.3, 303.3], "nice": false, "zero": false}, "axis": null},
      "text": {"field": "label"}
    }
  },
  {
    "data": {"name": "cBrackets"},
    "transform": [{"filter": "datum.label == '**p=0.0039'"}],
    "mark": {"type": "text", "fontSize": 17, "dx": 110},
    "encoding": {
      "x": {"field": "from", "type": "nominal", "scale": {"domain": ["-", "5w", "6w", "8w", "12w"], "range": [485, 797], "paddingInner": 0.33, "paddingOuter": 0.18}, "axis": null},
      "y": {"field": "ly", "type": "quantitative", "scale": {"domain": [0.95, 1.04], "range": [509.3, 303.3], "nice": false, "zero": false}, "axis": null},
      "text": {"field": "label"}
    }
  },
  {
    "data": {"name": "cBrackets"},
    "transform": [{"filter": "datum.label == 'p=0.0551'"}],
    "mark": {"type": "text", "fontSize": 16.5, "dx": 102},
    "encoding": {
      "x": {"field": "from", "type": "nominal", "scale": {"domain": ["-", "5w", "6w", "8w", "12w"], "range": [485, 797], "paddingInner": 0.33, "paddingOuter": 0.18}, "axis": null},
      "y": {"field": "ly", "type": "quantitative", "scale": {"domain": [0.95, 1.04], "range": [509.3, 303.3], "nice": false, "zero": false}, "axis": null},
      "text": {"field": "label"}
    }
  },
  {
    "data": {"values": [{"t": "Sj"}]},
    "mark": {"type": "text", "align": "right", "fontSize": 15, "fontWeight": "bold", "fontStyle": "italic", "dx": -78, "dy": 18.7},
    "encoding": {
      "x": {"datum": "-", "type": "nominal", "scale": {"domain": ["-", "5w", "6w", "8w", "12w"], "range": [485, 797], "paddingInner": 0.33, "paddingOuter": 0.18}, "axis": null},
      "y": {"datum": 0.95, "type": "quantitative", "scale": {"domain": [0.95, 1.04], "range": [509.3, 303.3], "nice": false, "zero": false}, "axis": null},
      "text": {"field": "t"}
    }
  },
  {
    "data": {"values": [{"t": "infection"}]},
    "mark": {"type": "text", "align": "right", "fontSize": 15, "fontWeight": "bold", "dx": -12, "dy": 18.7},
    "encoding": {
      "x": {"datum": "-", "type": "nominal", "scale": {"domain": ["-", "5w", "6w", "8w", "12w"], "range": [485, 797], "paddingInner": 0.33, "paddingOuter": 0.18}, "axis": null},
      "y": {"datum": 0.95, "type": "quantitative", "scale": {"domain": [0.95, 1.04], "range": [509.3, 303.3], "nice": false, "zero": false}, "axis": null},
      "text": {"field": "t"}
    }
  },
  {
    "data": {"values": [{"t": "c"}]},
    "mark": {"type": "text", "align": "left", "baseline": "alphabetic", "fontSize": 22, "dx": -105, "dy": -5.3},
    "encoding": {
      "x": {"datum": "-", "type": "nominal", "scale": {"domain": ["-", "5w", "6w", "8w", "12w"], "range": [485, 797], "paddingInner": 0.33, "paddingOuter": 0.18}, "axis": null},
      "y": {"datum": 1.04, "type": "quantitative", "scale": {"domain": [0.95, 1.04], "range": [509.3, 303.3], "nice": false, "zero": false}, "axis": null},
      "text": {"field": "t"}
    }
  }
]
}
